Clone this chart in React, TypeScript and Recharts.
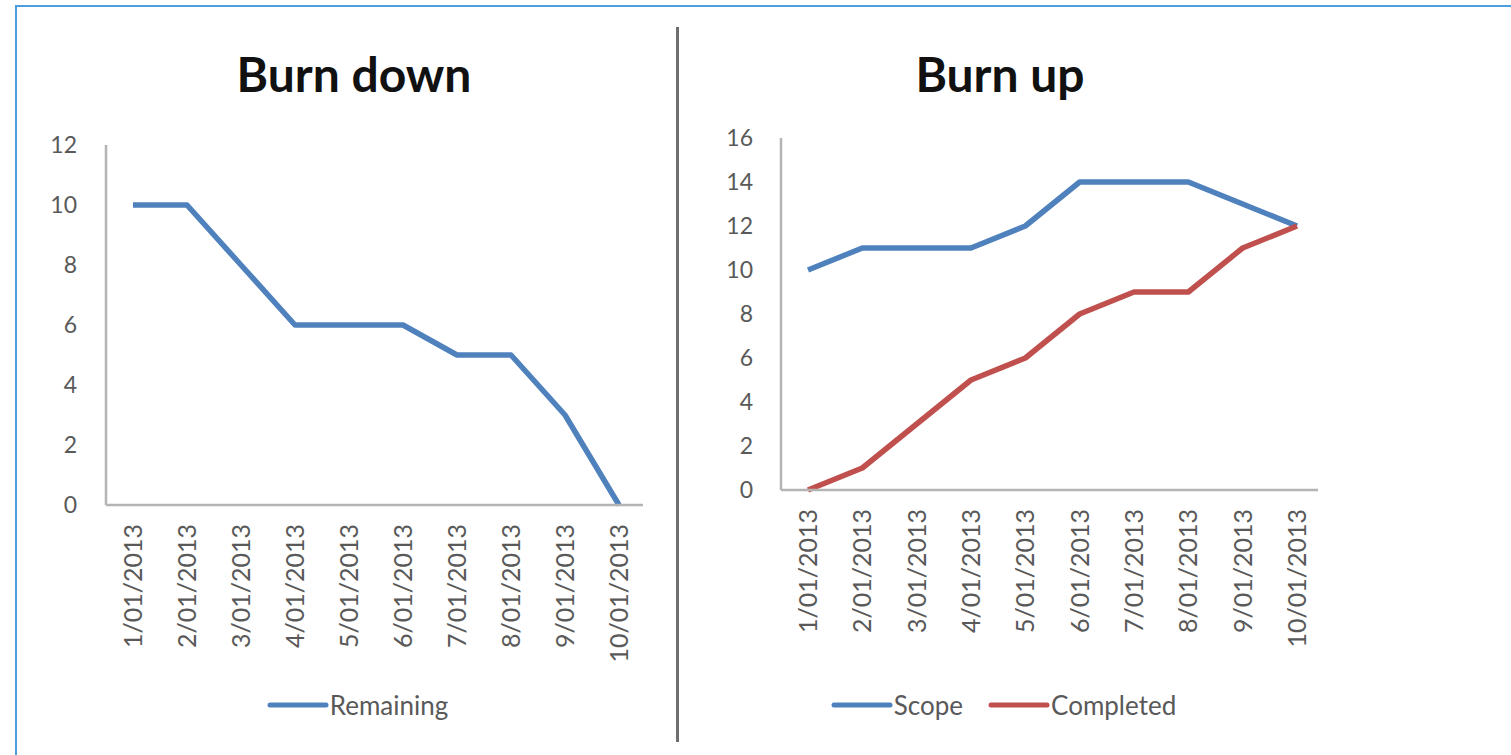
import { LineChart, Line, XAxis, YAxis, Legend } from 'recharts';

const dates = [
  '1/01/2013', '2/01/2013', '3/01/2013', '4/01/2013', '5/01/2013',
  '6/01/2013', '7/01/2013', '8/01/2013', '9/01/2013', '10/01/2013',
];
const remaining = [10, 10, 8, 6, 6, 6, 5, 5, 3, 0];
const scope = [10, 11, 11, 11, 12, 14, 14, 14, 13, 12];
const completed = [0, 1, 3, 5, 6, 8, 9, 9, 11, 12];
const burnDownTicks = [0, 2, 4, 6, 8, 10, 12];
const burnUpTicks = [0, 2, 4, 6, 8, 10, 12, 14, 16];
const seriesOrder = ['Remaining', 'Scope', 'Completed'];

const BLUE = '#4f81bd';
const RED = '#c0504d';
const TEXT = '#595959';
const AXIS = '#b4b4b4';
const FONT = 'Lato, "Open Sans", sans-serif';

const burnDownData = dates.map((date, i) => ({ date, Remaining: remaining[i] }));
const burnUpData = dates.map((date, i) => ({ date, Scope: scope[i], Completed: completed[i] }));

function DateTick({ x, y, payload }: any) {
  return (
    <g transform={`translate(${x},${y + 19})`}>
      <text transform="rotate(-90)" textAnchor="end" dy="0.36em" fill={TEXT} fontSize={25} fontFamily={FONT}>
        {payload.value}
      </text>
    </g>
  );
}

function LegendContent({ payload }: any) {
  const items = [...(payload || [])].sort(
    (a: any, b: any) => seriesOrder.indexOf(a.value) - seriesOrder.indexOf(b.value)
  );
  return (
    <div style={{ display: 'flex', justifyContent: 'center', alignItems: 'center', gap: 25 }}>
      {items.map((entry: any) => (
        <span key={entry.value} style={{ display: 'flex', alignItems: 'center' }}>
          <svg width={62} height={8}>
            <line x1={3} y1={4} x2={59} y2={4} stroke={entry.color} strokeWidth={5} strokeLinecap="round" />
          </svg>
          <span style={{ fontFamily: FONT, fontSize: 26, color: TEXT, marginLeft: 1, lineHeight: '30px' }}>
            {entry.value}
          </span>
        </span>
      ))}
    </div>
  );
}

const titleStyle: React.CSSProperties = {
  position: 'absolute',
  top: 50,
  width: 300,
  textAlign: 'center',
  fontFamily: FONT,
  fontWeight: 700,
  fontSize: 48,
  lineHeight: '48px',
  color: '#111',
};

export default function App() {
  return (
    <div style={{ position: 'absolute', left: 0, top: 0, width: 1511, height: 755, background: '#fff', overflow: 'hidden' }}>
      <div
        style={{
          position: 'absolute',
          left: 15,
          top: 5,
          width: 1520,
          height: 780,
          borderTop: '2px solid #4a9fdc',
          borderLeft: '2px solid #4a9fdc',
        }}
      />
      <div style={{ position: 'absolute', left: 676, top: 27, width: 3, height: 715, background: '#6e6e6e' }} />

      <div style={{ ...titleStyle, left: 204 }}>Burn down</div>
      <div style={{ ...titleStyle, left: 850 }}>Burn up</div>

      <div style={{ position: 'absolute', left: 0, top: 0 }}>
        <LineChart width={700} height={755} data={burnDownData} margin={{ top: 145, right: 57, left: 0, bottom: 90 }}>
          <XAxis
            dataKey="date"
            height={160}
            padding={{ left: 27, right: 24 }}
            interval={0}
            tickLine={false}
            tickSize={0}
            tickMargin={0}
            axisLine={{ stroke: AXIS, strokeWidth: 2.5 }}
            tick={<DateTick />}
          />
          <YAxis
            width={106}
            domain={[0, 12]}
            ticks={burnDownTicks}
            interval={0}
            tickLine={false}
            tickSize={0}
            tickMargin={29}
            axisLine={{ stroke: AXIS, strokeWidth: 2.5 }}
            tick={{ fill: TEXT, fontSize: 23, fontFamily: FONT }}
          />
          <Legend
            layout="horizontal"
            verticalAlign="middle"
            align="center"
            content={<LegendContent />}
            wrapperStyle={{ top: 690, left: 0, width: 715, bottom: 'auto' }}
          />
          <Line
            type="linear"
            dataKey="Remaining"
            stroke={BLUE}
            strokeWidth={5.5}
            strokeLinejoin="round"
            dot={false}
            activeDot={false}
            isAnimationActive={false}
          />
        </LineChart>
      </div>

      <div style={{ position: 'absolute', left: 680, top: 0 }}>
        <LineChart width={700} height={755} data={burnUpData} margin={{ top: 138, right: 62, left: 0, bottom: 105 }}>
          <XAxis
            dataKey="date"
            height={160}
            padding={{ left: 27, right: 21 }}
            interval={0}
            tickLine={false}
            tickSize={0}
            tickMargin={0}
            axisLine={{ stroke: AXIS, strokeWidth: 2.5 }}
            tick={<DateTick />}
          />
          <YAxis
            width={101}
            domain={[0, 16]}
            ticks={burnUpTicks}
            interval={0}
            tickLine={false}
            tickSize={0}
            tickMargin={28}
            axisLine={{ stroke: AXIS, strokeWidth: 2.5 }}
            tick={{ fill: TEXT, fontSize: 23, fontFamily: FONT }}
          />
          <Legend
            layout="horizontal"
            verticalAlign="middle"
            align="center"
            content={<LegendContent />}
            wrapperStyle={{ top: 690, left: 0, width: 647, bottom: 'auto' }}
          />
          <Line
            type="linear"
            dataKey="Scope"
            stroke={BLUE}
            strokeWidth={5.5}
            strokeLinejoin="round"
            dot={false}
            activeDot={false}
            isAnimationActive={false}
          />
          <Line
            type="linear"
            dataKey="Completed"
            stroke={RED}
            strokeWidth={5.5}
            strokeLinejoin="round"
            dot={false}
            activeDot={false}
            isAnimationActive={false}
          />
        </LineChart>
      </div>
    </div>
  );
}
